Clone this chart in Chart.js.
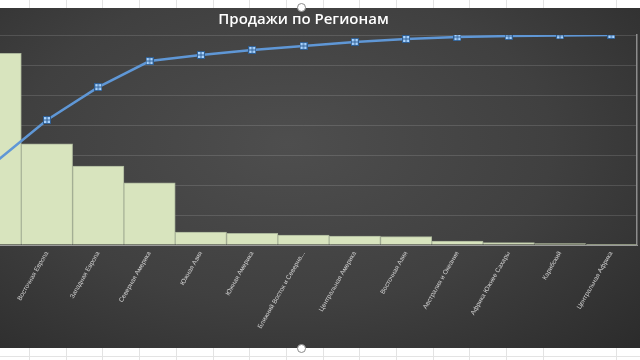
<!DOCTYPE html>
<html>
<head>
<meta charset="utf-8">
<script src="https://cdn.jsdelivr.net/npm/chart.js@4"></script>
<style>
  html, body { margin: 0; padding: 0; }
  body {
    width: 640px; height: 360px; overflow: hidden; position: relative;
    background: #ffffff;
  }
  /* spreadsheet cells above and below the chart */
  .cells {
    position: absolute; left: 0; width: 640px;
    background-image: repeating-linear-gradient(90deg, transparent 0, transparent 29px, #e3e3e3 29px, #e3e3e3 30px, transparent 30px, transparent 36.7px);
  }
  #cellsTop { top: 0; height: 8px; }
  #cellsBottom { top: 348px; height: 12px; border-bottom: 0; }
  #cellsBottom::after {
    content: ""; position: absolute; left: 0; right: 0; top: 8px; height: 1px; background: #e3e3e3;
  }
  #bg {
    position: absolute; left: 0; top: 8px; width: 640px; height: 340px;
    background: radial-gradient(ellipse 75% 85% at 45% 40%, #4e4e4e 0%, #404040 55%, #2c2c2c 100%);
  }
  #wrap {
    position: absolute; left: -40px; top: 8px; width: 720px; height: 340px;
  }
  .handle {
    position: absolute; width: 7px; height: 7px; border-radius: 50%;
    background: #ffffff; border: 1px solid #8a8a8a;
  }
</style>
</head>
<body>
<div class="cells" id="cellsTop"></div>
<div class="cells" id="cellsBottom"></div>
<div id="bg"></div>
<div id="wrap"><canvas id="pareto"></canvas></div>
<div class="handle" style="left:297px; top:3px;"></div>
<div class="handle" style="left:297px; top:344px;"></div>

<script>
// Data
const categories = [
  "Центральная Азия",
  "Восточная Европа",
  "Западная Европа",
  "Северная Америка",
  "Южная Азия",
  "Южная Америка",
  "Ближний Восток и Северна...",
  "Центральная Америка",
  "Восточная Азия",
  "Австралия и Океания",
  "Африка Южнее Сахары",
  "Карибский",
  "Центральная Африка"
];
const sales = [6.39, 3.37, 2.63, 2.07, 0.43, 0.39, 0.33, 0.30, 0.28, 0.13, 0.08, 0.05, 0.02];
const cumulativePct = [39.5, 59.5, 75.2, 87.6, 90.5, 92.9, 94.8, 96.7, 98.1, 99.0, 99.5, 99.8, 100];
const salesAxisMax = 7;
const pctAxisMax = 100;

// little square marker with a dark cross, like the Excel one
function makeMarker() {
  const c = document.createElement("canvas");
  c.width = 8; c.height = 8;
  const g = c.getContext("2d");
  g.fillStyle = "#2f5f94";
  g.fillRect(0, 0, 8, 8);
  g.fillStyle = "#a9d4ff";
  g.fillRect(1, 1, 2.5, 2.5);
  g.fillRect(4.5, 1, 2.5, 2.5);
  g.fillRect(1, 4.5, 2.5, 2.5);
  g.fillRect(4.5, 4.5, 2.5, 2.5);
  return c;
}

const ctx = document.getElementById("pareto");

new Chart(ctx, {
  data: {
    labels: categories,
    datasets: [
      {
        type: "line",
        data: cumulativePct,
        yAxisID: "y1",
        borderColor: "#5f97d6",
        borderWidth: 2.5,
        pointStyle: makeMarker(),
        pointRadius: 4,
        tension: 0,
        order: 1
      },
      {
        type: "bar",
        data: sales,
        yAxisID: "y",
        backgroundColor: "#d8e4be",
        borderColor: "#aab59a",
        borderWidth: 1,
        barPercentage: 1,
        categoryPercentage: 1,
        order: 2
      }
    ]
  },
  options: {
    responsive: true,
    maintainAspectRatio: false,
    devicePixelRatio: 1,
    animation: false,
    layout: { padding: 0 },
    plugins: {
      legend: { display: false },
      tooltip: { enabled: false },
      title: {
        display: true,
        text: "Продажи по Регионам",
        color: "#ffffff",
        fullSize: false,
        font: { family: "Open Sans", size: 15, weight: "600" },
        padding: { top: 3, bottom: 6 }
      }
    },
    scales: {
      x: {
        offset: true,
        grid: { display: false, drawTicks: false },
        border: { display: true, color: "#9a9a9a", width: 1 },
        ticks: {
          color: "#d2d2d2",
          font: { family: "Liberation Sans", size: 6.5 },
          minRotation: 60,
          maxRotation: 60,
          autoSkip: false,
          padding: 5
        },
        afterFit: (scale) => { scale.height = 103; }
      },
      y: {
        position: "left",
        min: 0,
        max: salesAxisMax,
        ticks: { display: false, stepSize: 1 },
        grid: { color: "rgba(255,255,255,0.13)", drawTicks: false },
        border: { display: false },
        afterFit: (scale) => { scale.width = 10; }
      },
      y1: {
        position: "right",
        min: 0,
        max: pctAxisMax,
        ticks: { display: false },
        grid: { drawOnChartArea: false, drawTicks: false },
        border: { display: true, color: "#8c8c8c", width: 1.5 },
        afterFit: (scale) => { scale.width = 43; }
      }
    }
  }
});
</script>
</body>
</html>
